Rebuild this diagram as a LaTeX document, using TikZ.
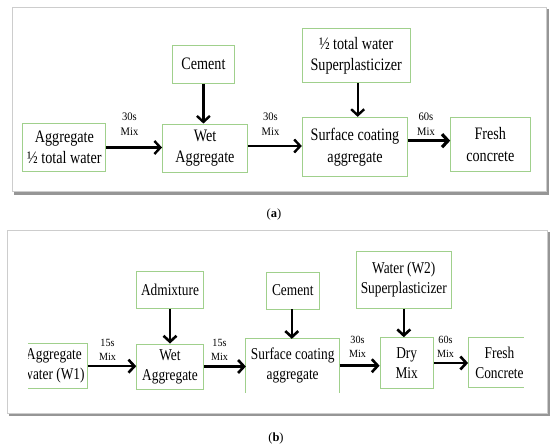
\documentclass[tikz,border=0pt]{standalone}
\usepackage{fontspec}
\setmainfont{Liberation Serif}
\newfontfamily\boxfont[FakeStretch=0.81]{Liberation Serif}
\newfontfamily\labfont[FakeStretch=0.92]{Liberation Serif}
\usetikzlibrary{arrows.meta,calc}
\definecolor{boxgreen}{RGB}{160,208,140}
\definecolor{framegray}{RGB}{205,205,205}
\definecolor{shadowgray}{RGB}{150,150,150}
\begin{document}
\begin{tikzpicture}[x=1pt,y=-1pt,
  box/.style={draw=boxgreen, line width=0.9pt, inner sep=0pt, align=center},
  boxlines/.style={draw=boxgreen, line width=0.9pt},
  sz/.style 2 args={minimum width=#1pt, minimum height=#2pt},
  fa/.style={font=\boxfont\fontsize{17.5}{21.5}\selectfont},
  fb/.style={font=\boxfont\fontsize{16.5}{20}\selectfont},
  lab/.style={inner sep=0pt, align=center, font=\labfont\fontsize{11.5}{15}\selectfont},
  labb/.style={inner sep=0pt, align=center, font=\labfont\fontsize{11}{14}\selectfont},
  arr/.style={line width=2.4pt, -{Straight Barb[length=6pt,width=13pt]}},
  arrb/.style={line width=2.6pt, -{Straight Barb[length=6pt,width=13pt]}},
  frameline/.style={draw=framegray, line width=0.8pt},
  shadowline/.style={draw=shadowgray, line width=3pt},
  captext/.style={inner sep=0pt, font=\fontsize{12.5}{14}\selectfont}
]
\useasboundingbox[fill=white] (0,0) rectangle (550,446);

% ---------- panel (a) ----------
\draw[shadowline] (14,193.5) -- (547.5,193.5) -- (547.5,9);
\draw[frameline] (12.3,7.3) rectangle (546.3,191.5);

\node[box,fa,sz={83}{48}]   (a1) at (64.4,147.5) {Aggregate\\½ total water};
\node[box,fa,sz={85}{48}]   (a2) at (205,148)    {Wet\\Aggregate};
\node[box,fa,sz={62.6}{38.3}] (a3) at (203.4,64.2) {Cement};
\node[box,fa,sz={107.7}{53.7}] (a4) at (356.2,55.8) {½ total water\\Superplasticizer};
\node[box,fa,sz={105.4}{59.4}] (a5) at (355,147) {Surface coating\\aggregate};
\node[box,fa,sz={79.3}{54.4}] (a6) at (490.3,144.5) {Fresh\\concrete};

\draw[arr] (a1.east) -- (a1.east -| a2.west);
\draw[arr] ($(a2.east)+(0,-2)$) coordinate (a2o) -- (a2o -| a5.west);
\draw[arr, line width=3.2pt] ($(a5.east)+(0,-6.3)$) coordinate (a5o) -- (a5o -| a6.west);
\draw[arr] (a3.south) -- (a3.south |- a2.north);
\draw[arr] ($(a4.south)+(1.5,0)$) coordinate (a4o) -- (a4o |- a5.north);

\node[lab] (la1) at (129.5,124) {30s\\Mix};
\node[lab] (la2) at (270.5,124.5) {30s\\Mix};
\node[lab] (la3) at (426,124.5) {60s\\Mix};

\node[captext] (capa) at (274,214) {(\textbf{a})};

% ---------- panel (b) ----------
\draw[shadowline] (9,415) -- (548.5,415) -- (548.5,232);
\draw[frameline] (7.5,230) rectangle (547,413);

\node[sz={59.4}{44.3}, inner sep=0pt] (b1) at (58,366.2) {};
\draw[boxlines] (b1.north west) -- (b1.north east) -- (b1.south east) -- (b1.south west);
\begin{scope}
  \clip (28.3,340) rectangle (95,392);
  \node[fb, inner sep=0pt, align=center] (b1t) at (54,366.2) {Aggregate\\water (W1)};
\end{scope}

\node[box,fb,sz={66.6}{45}]   (b2) at (170,366.5) {Wet\\Aggregate};
\node[box,fb,sz={67.5}{37.3}] (b3) at (170,289.7) {Admixture};
\node[box,fb,sz={53.7}{37}]   (b4) at (292.8,290.5) {Cement};
\node[fb, inner sep=0pt, align=center, sz={93.3}{53.3}] (b5) at (292.7,365.7) {Surface coating\\aggregate};
\draw[boxlines] (b5.south west) -- (b5.north west) -- (b5.north east) -- (b5.south east);
\node[box,fb,sz={95.7}{56.7}] (b6) at (403.8,280) {Water (W2)\\Superplasticizer};
\node[box,fb,sz={53.3}{50.7}] (b7) at (406.7,363) {Dry\\Mix};

\node[sz={55}{49.6}, inner sep=0pt] (b8) at (495.8,362.5) {};
\draw[boxlines] (b8.north east) -- (b8.north west) -- (b8.south west) -- (b8.south east);
\begin{scope}
  \clip (460,335) rectangle (523.3,392);
  \node[fb, inner sep=0pt, align=center] (b8t) at (499.5,362.5) {Fresh\\Concrete};
\end{scope}

\draw[arrb] (b1.east) -- (b1.east -| b2.west);
\draw[arrb] (b2.east) -- (b2.east -| b5.west);
\draw[arrb] (b5.east) -- (b5.east -| b7.west);
\draw[arrb] (b7.east) -- (b7.east -| b8.west);
\draw[arrb] (b3.south) -- (b3.south |- b2.north);
\draw[arrb] ($(b4.south)+(-1,0)$) coordinate (b4o) -- (b4o |- b5.north);
\draw[arrb] (b6.south) -- (b6.south |- b7.north);

\node[labb] (lb1) at (107.5,349.5) {15s\\Mix};
\node[labb] (lb2) at (219.5,349.5) {15s\\Mix};
\node[labb] (lb3) at (357.5,347) {30s\\Mix};
\node[labb] (lb4) at (445.5,347) {60s\\Mix};

\node[captext] (capb) at (276,438) {(\textbf{b})};
\end{tikzpicture}
\end{document}
